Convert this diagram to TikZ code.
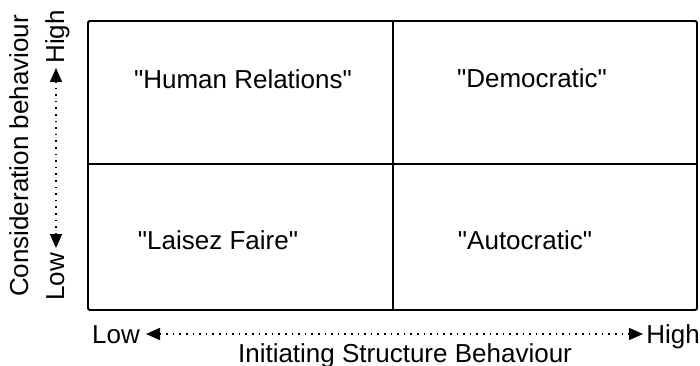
\documentclass[tikz,border=0pt]{standalone}
\usepackage{fontspec}
% plain family: keeps straight double quotes as typed
\newfontfamily\labelfont{Liberation Sans}
\usetikzlibrary{arrows.meta}
\begin{document}
\begin{tikzpicture}[x=1pt,y=-1pt,
  lbl/.style={font=\labelfont\fontsize{26}{28}\selectfont, inner sep=0pt},
  grid/.style={line width=1.8pt},
  axis/.style={line width=1.5pt, dash pattern=on 1.6pt off 5pt,
    {Triangle[length=14pt,width=12pt]}-{Triangle[length=14pt,width=12pt]}}]
\useasboundingbox (0,0) rectangle (700,366);
% quadrant frame
\draw[grid, rounded corners=1.5pt] (88,21) rectangle (697,310);
\draw[grid] (393,21) -- (393,310);
\draw[grid] (88,164) -- (697,164);
% quadrant labels
\node[lbl] (hr) at (243,79) {"Human Relations"};
\node[lbl] (dem) at (532,78) {"Democratic"};
\node[lbl] (lf) at (218,240) {"Laisez Faire"};
\node[lbl] (aut) at (525,240) {"Autocratic"};
% horizontal axis
\node[lbl, anchor=base west] (xlow) at (92,343) {Low};
\node[lbl, anchor=base east] (xhigh) at (700,343) {High};
\coordinate (xl) at (146,334);
\coordinate (xh) at (643,334);
\draw[axis] (xl) -- (xh);
\node[lbl, anchor=base] (xtitle) at (405,362) {Initiating Structure Behaviour};
% vertical axis
\node[lbl, rotate=90, anchor=base west] (ylow) at (64,301) {Low};
\node[lbl, rotate=90, anchor=base east] (yhigh) at (64,10) {High};
\coordinate (yl) at (56,248);
\coordinate (yh) at (56,68);
\draw[axis] (yl) -- (yh);
\node[lbl, rotate=90, anchor=base] (ytitle) at (28,156) {Consideration behaviour};
\end{tikzpicture}
\end{document}
